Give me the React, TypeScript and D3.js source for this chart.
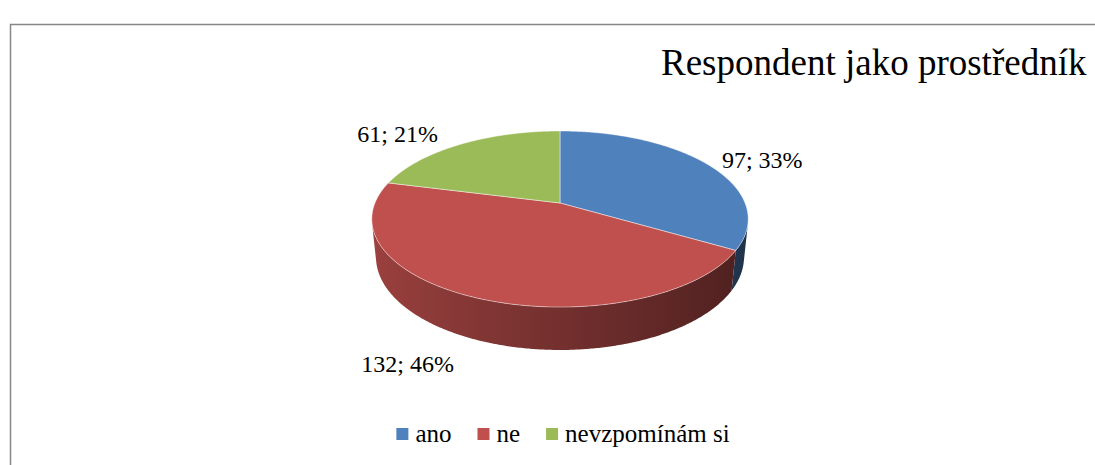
import React from "react";
import * as d3 from "d3";

const categories = ["ano", "ne", "nevzpomínám si"];
const values = [97, 132, 61];
const colors = ["#4f81bd", "#c0504d", "#9bbb59"];
const title = "Respondent jako prostředník";
// per-slice label nudges (screen px) relative to the slice's outer edge point
const labelNudges = [
  [55, -4],
  [-70, 24],
  [-63, -10],
];

const W = 1095;
const H = 465;
const FONT = "Liberation Serif";

// perspective projection of a unit-radius pie lying on a plane
const cx = 560;
const cy = 203;
const f = 903;
const D = 4.88;
const sE = 0.46;
const cE = Math.sqrt(1 - sE * sE);
const depthH = 0.2334;

const project = (X: number, Y: number, Z: number): [number, number] => {
  const u = Y * cE - Z * sE;
  const depth = D - Z * cE - Y * sE;
  return [cx + (f * X) / depth, cy - (f * u) / depth];
};
const rim = (theta: number, Y: number) => project(Math.sin(theta), Y, -Math.cos(theta));

const shade = (col: string, k: number) => {
  const rgb = d3.rgb(col);
  return d3.rgb(rgb.r * k, rgb.g * k, rgb.b * k).formatHex();
};
const line = d3.line<[number, number]>().x((d) => d[0]).y((d) => d[1]);
const step = Math.PI / 360;

const measure = (text: string, size: number) => {
  const cvs = document.createElement("canvas");
  const ctx = cvs.getContext("2d");
  if (!ctx) return text.length * size * 0.45;
  ctx.font = `${size}px "${FONT}"`;
  return ctx.measureText(text).width;
};

export default function App() {
  const arcs = d3.pie<number>().sort(null).value((d) => d)(values);
  const total = d3.sum(values);

  const visLimit = Math.acos(-1 / (D * cE));
  const visStart = visLimit;
  const visEnd = 2 * Math.PI - visLimit;

  const walls: { d: string; id: string; stops: { o: number; c: string }[]; x1: number; x2: number }[] = [];
  arcs.forEach((a, i) => {
    const a0 = Math.max(a.startAngle, visStart);
    const a1 = Math.min(a.endAngle, visEnd);
    if (a1 <= a0) return;
    const n = Math.max(2, Math.ceil((a1 - a0) / step));
    const ts = d3.range(n + 1).map((j) => a0 + ((a1 - a0) * j) / n);
    const topPts = ts.map((t) => rim(t, 0));
    const botPts = ts.map((t) => rim(t, -depthH)).reverse();
    const xs = topPts.map((p) => p[0]);
    const x1 = d3.min(xs) as number;
    const x2 = d3.max(xs) as number;
    const pts = ts.map((t, j) => ({ x: topPts[j][0], k: 0.6 - 0.22 * Math.sin(t) })).sort((p, q) => p.x - q.x);
    const m = 24;
    const stops = d3.range(m + 1).map((j) => {
      const st = pts[Math.round(((pts.length - 1) * j) / m)];
      return { o: x2 > x1 ? (st.x - x1) / (x2 - x1) : 0, c: shade(colors[i], st.k) };
    });
    walls.push({ d: line([...topPts, ...botPts]) + "Z", id: `wall-${i}`, stops, x1, x2 });
  });

  const tops = arcs.map((a, i) => {
    const n = Math.max(2, Math.ceil((a.endAngle - a.startAngle) / step));
    const pts: [number, number][] = [project(0, 0, 0)];
    for (let j = 0; j <= n; j++) {
      const t = a.startAngle + ((a.endAngle - a.startAngle) * j) / n;
      pts.push(rim(t, 0));
    }
    return { d: line(pts) + "Z", color: colors[i] };
  });

  const labels = arcs.map((a, i) => {
    const mid = (a.startAngle + a.endAngle) / 2;
    const front = Math.cos(mid) < 0;
    const edge = rim(mid, front ? -depthH : 0);
    const pct = Math.round((values[i] / total) * 100);
    return {
      x: edge[0] + labelNudges[i][0],
      y: edge[1] + labelNudges[i][1] + 8,
      text: `${values[i]}; ${pct}%`,
    };
  });

  const legendSize = 25;
  const gap = 26;
  const itemW = categories.map((cat) => 19 + measure(cat, legendSize));
  const totalW = d3.sum(itemW) + gap * (categories.length - 1);
  let lx = 563 - totalW / 2;
  const legend = categories.map((cat, i) => {
    const x = lx;
    lx += itemW[i] + gap;
    return { x, cat, color: colors[i] };
  });

  return (
    <svg width={W} height={H} style={{ position: "absolute", left: 0, top: 0, display: "block" }}>
      <defs>
        {walls.map((w) => (
          <linearGradient key={w.id} id={w.id} gradientUnits="userSpaceOnUse" x1={w.x1} x2={w.x2} y1={0} y2={0}>
            {w.stops.map((s, j) => (
              <stop key={j} offset={s.o} stopColor={s.c} />
            ))}
          </linearGradient>
        ))}
      </defs>
      <rect x={0} y={0} width={W} height={H} fill="#fff" />
      <rect x={10.5} y={24.5} width={1200} height={600} fill="none" stroke="#878787" strokeWidth={1.5} />
      <g>
        {walls.map((w) => (
          <path key={w.id} d={w.d} fill={`url(#${w.id})`} />
        ))}
      </g>
      <g>
        {tops.map((t, i) => (
          <path
            key={i}
            d={t.d}
            fill={t.color}
            stroke="rgba(255,255,255,0.45)"
            strokeWidth={1}
            strokeLinejoin="round"
          />
        ))}
      </g>
      {labels.map((l, i) => (
        <text key={i} x={l.x} y={l.y} textAnchor="middle" style={{ fontFamily: FONT, fontSize: "24px" }} fill="#000">
          {l.text}
        </text>
      ))}
      <text x={661} y={75} style={{ fontFamily: FONT, fontSize: "37px" }} fill="#000">
        {title}
      </text>
      {legend.map((l, i) => (
        <g key={i} transform={`translate(${l.x},442)`}>
          <rect x={0} y={-14} width={12} height={12} fill={l.color} />
          <text x={19} y={0} style={{ fontFamily: FONT, fontSize: `${legendSize}px` }} fill="#000">
            {l.cat}
          </text>
        </g>
      ))}
    </svg>
  );
}
